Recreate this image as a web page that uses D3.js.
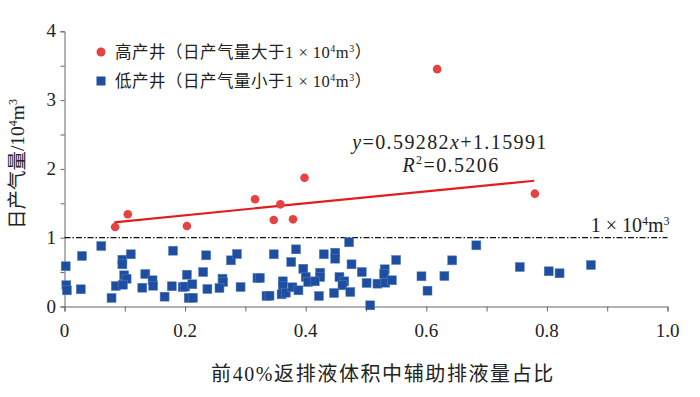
<!DOCTYPE html>
<html><head><meta charset="utf-8">
<script src="https://cdn.jsdelivr.net/npm/d3@7/dist/d3.min.js"></script>
<style>body{margin:0;background:#fff}svg{display:block}</style>
</head><body><div id="chart"></div>
<script>
const highX = [0.084,0.105,0.203,0.316,0.358,0.347,0.379,0.398,0.618,0.780];
const highY = [1.156,1.34,1.17,1.558,1.485,1.257,1.267,1.872,3.45,1.64];
const lowX = [0.002,0.003,0.004,0.029,0.027,0.061,0.078,0.085,0.096,0.096,0.110,0.099,0.103,0.097,0.129,0.134,0.146,0.147,0.166,0.180,0.178,
  0.203,0.196,0.200,0.212,0.206,0.213,0.235,0.230,0.237,0.262,0.263,0.257,0.276,0.286,0.292,0.320,0.324,0.335,0.340,0.347,0.362,0.362,0.360,0.367,0.378,0.388,0.376,0.384,0.396,0.400,0.404,
  0.424,0.424,0.415,0.422,0.430,0.449,0.449,0.472,0.476,0.456,0.464,0.461,0.474,0.447,0.493,0.501,0.507,0.519,0.531,0.530,0.532,0.543,0.550,0.592,0.602,
  0.630,0.643,0.683,0.755,0.803,0.821,0.873];
const lowY = [0.585,0.31,0.235,0.734,0.25,0.879,0.124,0.298,0.68,0.613,0.759,0.453,0.404,0.317,0.273,0.472,0.381,0.302,0.143,0.811,0.294,
  0.462,0.283,0.29,0.323,0.124,0.126,0.744,0.501,0.254,0.404,0.356,0.269,0.671,0.763,0.283,0.414,0.414,0.153,0.157,0.759,0.366,0.294,0.177,0.201,0.279,0.235,0.647,0.831,0.549,0.429,0.356,
  0.491,0.429,0.366,0.153,0.759,0.782,0.695,0.933,0.613,0.429,0.366,0.308,0.211,0.196,0.501,0.342,0.017,0.332,0.541,0.472,0.346,0.381,0.676,0.439,0.230,
  0.443,0.671,0.889,0.574,0.512,0.483,0.603];
const fitX = [0.0826,0.779];
const fitY = [1.224,1.828];
const xTicks = [0,0.2,0.4,0.6,0.8,1.0];
const xTickLabels = ["0","0.2","0.4","0.6","0.8","1.0"];
const yTicks = [0,1,2,3,4];
const thresholdValue = 1;

const W=700,H=397;
const svg=d3.select("#chart").append("svg").attr("width",W).attr("height",H);
const x=d3.scaleLinear().domain([0,1]).range([64.5,667.5]);
const y=d3.scaleLinear().domain([0,4]).range([306.5,31.3]);
const serif='"Liberation Serif","Times New Roman",serif';
const cjk='"Liberation Serif","Noto Sans CJK SC",serif';
const axisColor="#666";

// x axis
const xa=svg.append("g").attr("transform",`translate(0,${y(0)})`)
  .call(d3.axisBottom(x).tickValues(d3.range(0,1.0001,0.1)).tickSize(5).tickFormat(""));
xa.select(".domain").attr("stroke",axisColor);
xa.selectAll(".tick line").attr("stroke",axisColor);
svg.append("g").selectAll("text").data(xTicks).join("text")
  .attr("x",d=>x(d)).attr("y",337).attr("text-anchor","middle")
  .attr("font-family",serif).attr("font-size",19).attr("fill","#222")
  .text((d,i)=>xTickLabels[i]);

// y axis
const ya=svg.append("g").attr("transform",`translate(${x(0)},0)`)
  .call(d3.axisLeft(y).tickValues(d3.range(0,4.001,0.5)).tickSize(4).tickFormat(""));
ya.select(".domain").attr("stroke",axisColor);
ya.selectAll(".tick line").attr("stroke",axisColor);
svg.append("g").selectAll("text").data(yTicks).join("text")
  .attr("x",56).attr("y",d=>y(d)+6).attr("text-anchor","end")
  .attr("font-family",serif).attr("font-size",19).attr("fill","#222")
  .text(d=>d);

// threshold line
svg.append("line").attr("x1",x(0)).attr("x2",x(1)).attr("y1",y(thresholdValue)).attr("y2",y(thresholdValue))
  .attr("stroke","#111").attr("stroke-width",1.2).attr("stroke-dasharray","6,2,1.5,2");
const tl=svg.append("text").attr("x",x(1)+2).attr("y",y(thresholdValue)-6).attr("text-anchor","end")
  .attr("font-family",serif).attr("font-size",20).attr("fill","#222");
tl.append("tspan").text("1 × 10");
tl.append("tspan").attr("font-size",12).attr("dy",-7).text("4");
tl.append("tspan").attr("dy",7).text("m");
tl.append("tspan").attr("font-size",12).attr("dy",-7).text("3");

// low points
const sq=9;
svg.append("g").selectAll("rect").data(lowX.map((d,i)=>[d,lowY[i]])).join("rect")
  .attr("x",d=>x(d[0])-sq/2).attr("y",d=>y(d[1])-sq/2).attr("width",sq).attr("height",sq)
  .attr("fill","#1D4E9F").attr("stroke","#5a80c0").attr("stroke-width",0.5);

// fit line
svg.append("line").attr("x1",x(fitX[0])).attr("y1",y(fitY[0])).attr("x2",x(fitX[1])).attr("y2",y(fitY[1]))
  .attr("stroke","#E01E1E").attr("stroke-width",2.2);

// high points
svg.append("g").selectAll("circle").data(highX.map((d,i)=>[d,highY[i]])).join("circle")
  .attr("cx",d=>x(d[0])).attr("cy",d=>y(d[1])).attr("r",4.3).attr("fill","#E54242");

// equation
const eq=svg.append("text").attr("x",450).attr("y",149).attr("text-anchor","middle")
  .attr("font-family",serif).attr("font-size",20).attr("fill","#222").attr("letter-spacing",1.4);
eq.append("tspan").attr("font-style","italic").text("y");
eq.append("tspan").text("=0.59282");
eq.append("tspan").attr("font-style","italic").text("x");
eq.append("tspan").text("+1.15991");
const r2=svg.append("text").attr("x",451).attr("y",172).attr("text-anchor","middle")
  .attr("font-family",serif).attr("font-size",20).attr("fill","#222").attr("letter-spacing",1.4);
r2.append("tspan").attr("font-style","italic").text("R");
r2.append("tspan").attr("font-size",12).attr("dy",-8).text("2");
r2.append("tspan").attr("dy",8).text("=0.5206");

// legend
const leg=[{label:"高产井（日产气量大于1 × 10",type:"c"},{label:"低产井（日产气量小于1 × 10",type:"s"}];
leg.forEach((l,i)=>{
  const cy=52+i*29;
  if(l.type==="c") svg.append("circle").attr("cx",101).attr("cy",cy).attr("r",4.5).attr("fill","#E54242");
  else svg.append("rect").attr("x",96.5).attr("y",cy-4.5).attr("width",9).attr("height",9).attr("fill","#1D4E9F");
  const t=svg.append("text").attr("x",115).attr("y",cy+5.5).attr("font-family",cjk).attr("font-size",16.5)
    .attr("fill","#222").attr("letter-spacing",0.5);
  t.append("tspan").text(l.label);
  t.append("tspan").attr("font-size",10).attr("dy",-6).text("4");
  t.append("tspan").attr("dy",6).text("m");
  t.append("tspan").attr("font-size",10).attr("dy",-6).text("3");
  t.append("tspan").attr("dy",6).text("）");
});

// axis titles
svg.append("text").attr("x",383).attr("y",381).attr("text-anchor","middle")
  .attr("font-family",cjk).attr("font-size",20).attr("fill","#222").attr("letter-spacing",1.6)
  .text("前40%返排液体积中辅助排液量占比");
const yt=svg.append("text").attr("transform","translate(24,164) rotate(-90)").attr("text-anchor","middle")
  .attr("font-family",cjk).attr("font-size",19.5).attr("fill","#222");
yt.append("tspan").text("日产气量/10");
yt.append("tspan").attr("font-size",12).attr("dy",-7).text("4");
yt.append("tspan").attr("dy",7).text("m");
yt.append("tspan").attr("font-size",12).attr("dy",-7).text("3");
</script></body></html>
